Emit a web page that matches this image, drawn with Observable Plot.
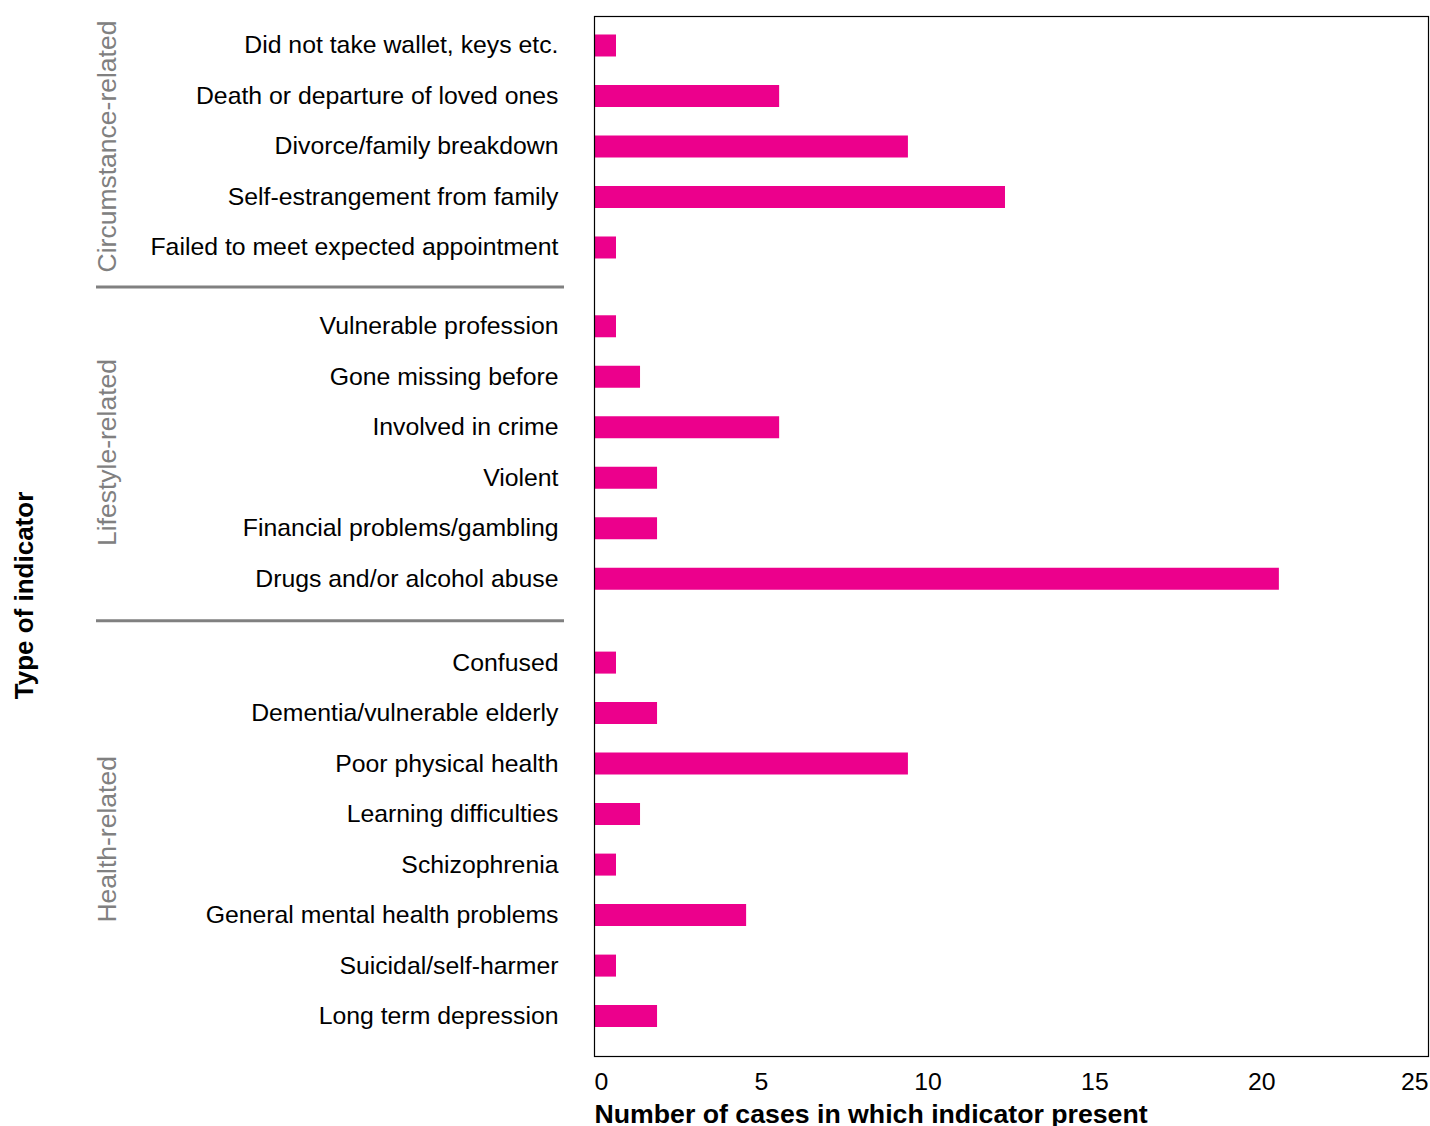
<!DOCTYPE html>
<html>
<head>
<meta charset="utf-8">
<script src="https://cdn.jsdelivr.net/npm/d3@7"></script>
<script src="https://cdn.jsdelivr.net/npm/@observablehq/plot@0.6"></script>
<style>
  html, body { margin: 0; padding: 0; background: #fff; overflow: hidden; }
</style>
</head>
<body>
<div id="chart"></div>
<script>
// ---- data ----
const categories = [
  "Did not take wallet, keys etc.",
  "Death or departure of loved ones",
  "Divorce/family breakdown",
  "Self-estrangement from family",
  "Failed to meet expected appointment",
  "Vulnerable profession",
  "Gone missing before",
  "Involved in crime",
  "Violent",
  "Financial problems/gambling",
  "Drugs and/or alcohol abuse",
  "Confused",
  "Dementia/vulnerable elderly",
  "Poor physical health",
  "Learning difficulties",
  "Schizophrenia",
  "General mental health problems",
  "Suicidal/self-harmer",
  "Long term depression"
];
const groupOf = [0,0,0,0,0, 1,1,1,1,1,1, 2,2,2,2,2,2,2,2];
const groupNames = ["Circumstance-related", "Lifestyle-related", "Health-related"];
const values = [
  0.66, 5.55, 9.41, 12.32, 0.66,
  0.66, 1.38, 5.55, 1.89, 1.89, 20.53,
  0.66, 1.89, 9.41, 1.38, 0.66, 4.56, 0.66, 1.89
];
const xTicks = [0, 5, 10, 15, 20, 25];
const xTitle = "Number of cases in which indicator present";
const yTitle = "Type of indicator";

// ---- layout helpers (row positions on a linear y scale) ----
const groupOffset = [0, 0.56, 1.22];   // extra spacing before each group, in rows
const rows = categories.map((label, i) => ({
  label,
  value: values[i],
  group: groupOf[i],
  pos: i + groupOffset[groupOf[i]]
}));
const groupInfo = groupNames.map((name, g) => {
  const r = rows.filter(d => d.group === g);
  return {name, first: r[0].pos, last: r[r.length - 1].pos, mid: (r[0].pos + r[r.length - 1].pos) / 2};
});
const separators = groupInfo.slice(0, -1).map((g, k) => (g.last + groupInfo[k + 1].first) / 2);
const lastPos = rows[rows.length - 1].pos;

const font = "'Liberation Sans', Arial, Helvetica, sans-serif";
const pink = "#EC008C";
const grey = "#808080";

const chart = Plot.plot({
  width: 1430,
  height: 1126,
  marginLeft: 594,
  marginRight: 2,
  marginTop: 16,
  marginBottom: 70,
  style: {fontFamily: font, background: "#fff", color: "#000"},
  x: {domain: [0, 25], axis: null},
  y: {domain: [-0.574, lastPos + 0.80], reverse: true, axis: null},
  marks: [
    Plot.ruleY(rows, {y: "pos", x1: 0, x2: "value", stroke: pink, strokeWidth: 22}),
    Plot.frame({stroke: "#000", strokeWidth: 1.2}),
    // category labels
    Plot.text(rows, {y: "pos", text: "label", frameAnchor: "left", textAnchor: "end", dx: -36,
      fontSize: 24.8, fill: "#000"}),
    // group separators
    Plot.ruleY(separators, {stroke: grey, strokeWidth: 3, insetLeft: -498, insetRight: 864}),
    // group labels
    Plot.text(groupInfo, {y: "mid", text: "name", frameAnchor: "left", textAnchor: "middle", dx: -487,
      rotate: -90, fontSize: 26.5, fill: grey}),
    // x tick labels
    Plot.text(xTicks.filter((d, i) => i === 0), {x: d => d, text: d => String(d), frameAnchor: "bottom",
      textAnchor: "start", dy: 33, fontSize: 24.8, fill: "#000"}),
    Plot.text(xTicks.filter((d, i) => i > 0 && i < xTicks.length - 1), {x: d => d, text: d => String(d),
      frameAnchor: "bottom", textAnchor: "middle", dy: 33, fontSize: 24.8, fill: "#000"}),
    Plot.text(xTicks.filter((d, i) => i === xTicks.length - 1), {x: d => d, text: d => String(d),
      frameAnchor: "bottom", textAnchor: "end", dy: 33, fontSize: 24.8, fill: "#000"}),
    // axis titles
    Plot.text([xTitle], {frameAnchor: "bottom-left", textAnchor: "start", dy: 66, text: d => d,
      fontSize: 26.7, fontWeight: "bold", fill: "#000"}),
    Plot.text([yTitle], {frameAnchor: "left", textAnchor: "middle", rotate: -90, dx: -570, dy: 59,
      text: d => d, fontSize: 26, fontWeight: "bold", fill: "#000"})
  ]
});
document.getElementById("chart").appendChild(chart);
</script>
</body>
</html>
